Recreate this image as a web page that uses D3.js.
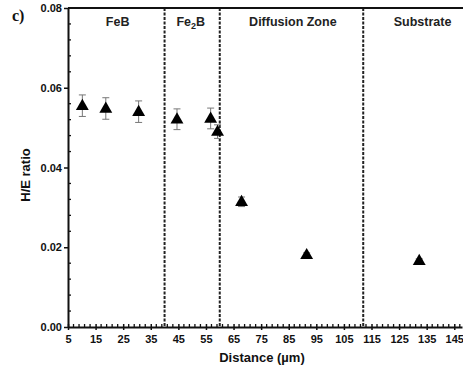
<!DOCTYPE html>
<html><head><meta charset="utf-8">
<script src="https://cdn.jsdelivr.net/npm/d3@7"></script>
<style>
body{margin:0;background:#fff;}
svg{display:block;}
</style></head>
<body>
<svg id="c" width="463" height="368"></svg>
<script>
// Data
const distance = [10.2, 18.7, 30.6, 44.5, 56.7, 59.2, 67.9, 91.5, 132.3];
const heRatio  = [0.0555, 0.0548, 0.0540, 0.0521, 0.0523, 0.0490, 0.0314, 0.0181, 0.0166];
const heError  = [0.0027, 0.0027, 0.0027, 0.0026, 0.0026, 0.0017, 0.0012, 0.0005, 0.0005];
const boundaries = [40, 60, 112];
const zoneNames = ["FeB", "Fe2B", "Diffusion Zone", "Substrate"];
const zoneCenters = [23, 49.5, 86.5, 133.5];
const xTicks = [5, 15, 25, 35, 45, 55, 65, 75, 85, 95, 105, 115, 125, 135, 145];
const yTicks = [0, 0.02, 0.04, 0.06, 0.08];

const svg = d3.select("#c");
const m = {left: 68, right: 463, top: 8, bottom: 327};
const x = d3.scaleLinear().domain([5, 147.8]).range([m.left, 462]);
const y = d3.scaleLinear().domain([0, 0.08]).range([m.bottom, m.top]);

const tickFont = "'Liberation Sans Narrow','Arial Narrow','Liberation Sans',Arial,sans-serif";
const labFont = "'Liberation Sans',Arial,sans-serif";

// dashed boundaries
svg.append("g").selectAll("line").data(boundaries).join("line")
  .attr("x1", d => x(d)).attr("x2", d => x(d))
  .attr("y1", y(0.08)).attr("y2", y(0))
  .attr("stroke", "#222").attr("stroke-width", 2)
  .attr("stroke-dasharray", "3,1.5");

// top line
svg.append("line").attr("x1", m.left).attr("x2", 463)
  .attr("y1", y(0.08)).attr("y2", y(0.08))
  .attr("stroke", "#111").attr("stroke-width", 2);

// Y axis (major outside, minor inside)
const yAx = svg.append("g").attr("transform", `translate(${m.left},0)`)
  .call(d3.axisLeft(y).tickValues(yTicks).tickFormat(d3.format(".2f")).tickSize(4).tickSizeOuter(0));
yAx.select(".domain").attr("stroke", "#111").attr("stroke-width", 2);
yAx.selectAll(".tick line").attr("stroke", "#111").attr("stroke-width", 1.5);
yAx.selectAll(".tick text").attr("font-family", tickFont).attr("font-weight", "bold")
  .attr("font-size", 11).attr("fill", "#111").attr("x", -6);
const yMinor = d3.range(0, 0.0801, 0.004).filter(v => Math.abs(v / 0.02 - Math.round(v / 0.02)) > 1e-6);
svg.append("g").selectAll("line").data(yMinor).join("line")
  .attr("x1", m.left).attr("x2", m.left + 3)
  .attr("y1", d => y(d)).attr("y2", d => y(d))
  .attr("stroke", "#111").attr("stroke-width", 1.3);

// X axis
const xAx = svg.append("g").attr("transform", `translate(0,${m.bottom})`)
  .call(d3.axisBottom(x).tickValues(xTicks).tickFormat(d3.format("d")).tickSize(3).tickSizeOuter(0));
xAx.select(".domain").attr("stroke", "#111").attr("stroke-width", 2);
xAx.selectAll(".tick line").attr("stroke", "#111").attr("stroke-width", 1.5).attr("y1", -3);
xAx.selectAll(".tick text").attr("font-family", tickFont).attr("font-weight", "bold")
  .attr("font-size", 11).attr("fill", "#111").attr("y", 8);
const xMinor = d3.range(7, 148, 2).filter(v => (v - 5) % 10 !== 0);
svg.append("g").selectAll("line").data(xMinor).join("line")
  .attr("x1", d => x(d)).attr("x2", d => x(d))
  .attr("y1", m.bottom).attr("y2", m.bottom - 3)
  .attr("stroke", "#111").attr("stroke-width", 1.3);

// error bars
const eb = svg.append("g").attr("stroke", "#777").attr("stroke-width", 1);
distance.forEach((d, i) => {
  const cx = x(d), t = y(heRatio[i] + heError[i]), b = y(heRatio[i] - heError[i]);
  eb.append("line").attr("x1", cx).attr("x2", cx).attr("y1", t).attr("y2", b);
  eb.append("line").attr("x1", cx - 3.5).attr("x2", cx + 3.5).attr("y1", t).attr("y2", t);
  eb.append("line").attr("x1", cx - 3.5).attr("x2", cx + 3.5).attr("y1", b).attr("y2", b);
});

// triangles
const tri = d3.symbol().type(d3.symbolTriangle).size(72);
svg.append("g").selectAll("path").data(distance).join("path")
  .attr("d", tri)
  .attr("transform", (d, i) => `translate(${x(d)},${y(heRatio[i]) + 0.5})`)
  .attr("fill", "#000");

// zone labels
const zl = svg.append("g").attr("font-family", labFont).attr("font-weight", "bold")
  .attr("font-size", 12.5).attr("fill", "#222").attr("text-anchor", "middle");
zoneNames.forEach((n, i) => {
  const t = zl.append("text").attr("x", x(zoneCenters[i])).attr("y", 26);
  if (n === "Fe2B") {
    t.append("tspan").text("Fe");
    t.append("tspan").text("2").attr("font-size", 9).attr("dy", 3);
    t.append("tspan").text("B").attr("dy", -3);
  } else t.text(n);
});

// axis titles
svg.append("text").attr("x", 262).attr("y", 362).attr("text-anchor", "middle")
  .attr("font-family", labFont).attr("font-weight", "bold").attr("font-size", 13).attr("fill", "#111")
  .text("Distance (µm)");
svg.append("text").attr("transform", "translate(30,175) rotate(-90)").attr("text-anchor", "middle")
  .attr("font-family", labFont).attr("font-weight", "bold").attr("font-size", 13).attr("fill", "#111")
  .text("H/E ratio");

// panel label
svg.append("text").attr("x", 12).attr("y", 21)
  .attr("font-family", "'Liberation Serif','Times New Roman',serif").attr("font-weight", "bold")
  .attr("font-size", 16).attr("fill", "#111").text("c)");
</script>
</body></html>
